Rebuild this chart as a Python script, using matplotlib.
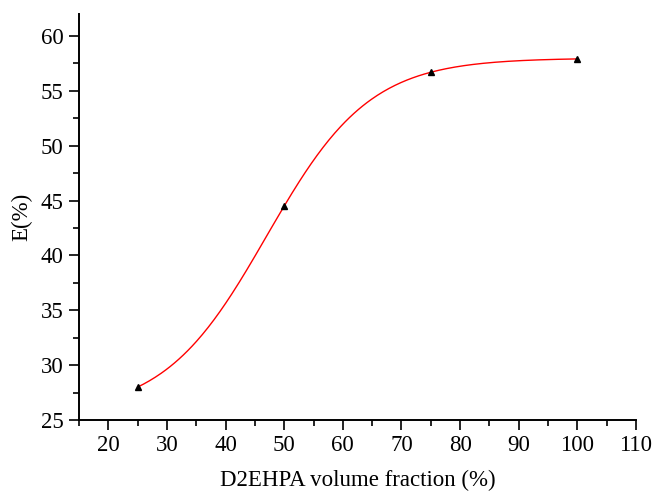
import numpy as np
import matplotlib
matplotlib.use("Agg")
import matplotlib.pyplot as plt
from matplotlib.ticker import MultipleLocator

# Data
fraction = np.array([25, 50, 75, 100], dtype=float)
extraction = np.array([28.0, 44.5, 56.7, 57.9])

# Boltzmann (sigmoid) curve through the data points, fitted at runtime
def sig(x, x0, dx):
    return 1.0 / (1.0 + np.exp(-(x - x0) / dx))

best = None
for x0 in np.linspace(35, 60, 251):
    for dx in np.linspace(3, 20, 171):
        s = sig(fraction, x0, dx)
        A = np.vstack([s, np.ones_like(s)]).T
        coef, *_ = np.linalg.lstsq(A, extraction, rcond=None)
        r = np.sum((A @ coef - extraction) ** 2)
        if best is None or r < best[0]:
            best = (r, x0, dx, coef)
_, x0, dx, coef = best
xs = np.linspace(fraction.min(), fraction.max(), 300)
ys = coef[0] * sig(xs, x0, dx) + coef[1]

plt.rcParams['font.family'] = ['Liberation Serif', 'DejaVu Serif']
fig = plt.figure(figsize=(6.55, 4.92), dpi=100)
ax = fig.add_axes([79/655, 72/492, (636-79)/655, (420-14)/492])

ax.plot(xs, ys, color='red', lw=1.0, zorder=2)
ax.plot(fraction, extraction, linestyle='none', marker='^', color='black',
        markersize=5, zorder=3)

ax.set_xlim(15, 110)
ax.set_ylim(25, 62)
ax.xaxis.set_major_locator(MultipleLocator(10))
ax.xaxis.set_minor_locator(MultipleLocator(5))
ax.yaxis.set_major_locator(MultipleLocator(5))
ax.yaxis.set_minor_locator(MultipleLocator(2.5))
ax.set_xticks(np.arange(20, 111, 10))
ax.set_yticks(np.arange(25, 61, 5))

for s in ['top', 'right']:
    ax.spines[s].set_visible(False)
for s in ['left', 'bottom']:
    ax.spines[s].set_linewidth(1.4)
ax.tick_params(which='major', direction='out', length=7, width=1.2, labelsize=16.5, pad=4)
ax.tick_params(which='minor', direction='out', length=4, width=1.2)

ax.set_xlabel('D2EHPA volume fraction (%)', fontsize=16.5, labelpad=10)
ax.set_ylabel('E(%)', fontsize=16.5, labelpad=6)

fig.savefig('out.png', dpi=100)
